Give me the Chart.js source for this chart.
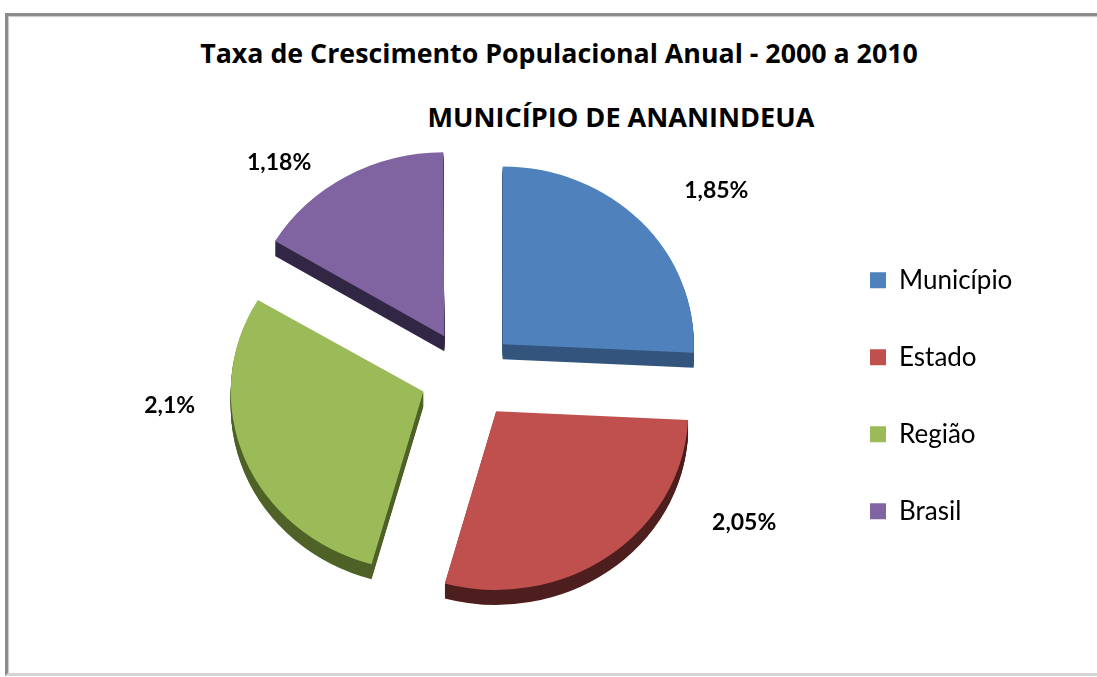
<!DOCTYPE html>
<html>
<head>
<meta charset="utf-8">
<script src="https://cdn.jsdelivr.net/npm/chart.js@4/dist/chart.umd.min.js"></script>
<style>
  html, body { margin: 0; padding: 0; background: #fff; overflow: hidden; }
  body { width: 1097px; height: 677px; position: relative; font-family: Lato, sans-serif; }
  .frame {
    position: absolute; left: 5px; top: 13px; width: 1110px; height: 657px;
    border-left: 3px solid #8c8c8c; border-top: 3px solid #8c8c8c; border-bottom: 3px solid #d4d4d4;
    box-shadow: inset 1px 1px 1px #c8c8c8;
  }
  .title {
    position: absolute; width: 900px; text-align: center; color: #000;
    font-family: "Open Sans", sans-serif; font-weight: bold; font-size: 25px; line-height: 1;
    white-space: nowrap;
  }
  #t1 { left: 109px; top: 40px; }
  #t2 { left: 171px; top: 103px; }
  canvas { position: absolute; left: 0; top: 0; }
</style>
</head>
<body>
<div class="frame"></div>
<div class="title" id="t1">Taxa de Crescimento Populacional Anual - 2000 a 2010</div>
<div class="title" id="t2">MUNICÍPIO DE ANANINDEUA</div>
<canvas id="chart" width="1097" height="677"></canvas>
<script>
// ── Data ─────────────────────────────────────────────────
const categories = ['Município', 'Estado', 'Região', 'Brasil'];
const rates      = [1.85, 2.05, 2.1, 1.18];
const rateLabels = ['1,85%', '2,05%', '2,1%', '1,18%'];

// ── Styling ──────────────────────────────────────────────
const faceColors = ['#4f81bd', '#c0504d', '#9bbb59', '#8064a2'];
const sideColors = ['#34557d', '#4e1f1f', '#4f6228', '#322845'];

const LEGEND_FONT = { family: 'Lato', size: 26 };
const LEGEND_PAD  = 51;
const LEGEND_BOX  = 16;

const measureCtx = document.createElement('canvas').getContext('2d');
function textWidth(font, text) {
  measureCtx.font = font;
  return measureCtx.measureText(text).width;
}

// titles: scale the font so each line spans the same width as the original
function fitTitle(id, target) {
  const el = document.getElementById(id);
  const w = textWidth('bold 25px "Open Sans"', el.textContent);
  el.style.fontSize = (25 * target / w).toFixed(2) + 'px';
}
fitTitle('t1', 718);
fitTitle('t2', 387);

// legend box should start at x=870; chart area spans 117..819
const legendTextW = Math.max(...categories.map(c => textWidth(`${LEGEND_FONT.size}px ${LEGEND_FONT.family}`, c)));
const legendWidth = LEGEND_PAD + LEGEND_BOX + LEGEND_FONT.size / 2 + legendTextW + 10;
const padRight    = 1097 - 819 - legendWidth;

function squash(ctx, cx, cy, k) {
  ctx.translate(cx, cy);
  ctx.scale(1, k);
  ctx.translate(-cx, -cy);
}

// fake 3D: extrude each slice downward in a darker tone, then tilt the faces
const pie3d = {
  id: 'pie3d',
  beforeDatasetsDraw(chart, args, opts) {
    const ctx  = chart.ctx;
    const arcs = chart.getDatasetMeta(0).data;
    const cx = arcs[0].x, cy = arcs[0].y;
    for (let k = opts.depth; k >= 1; k--) {
      ctx.save();
      ctx.translate(0, k);
      squash(ctx, cx, cy, opts.tilt);
      arcs.forEach((arc, i) => {
        const saved = arc.options;
        arc.options = { ...saved, backgroundColor: sideColors[i], borderColor: sideColors[i] };
        arc.draw(ctx);
        arc.options = saved;
      });
      ctx.restore();
    }
    ctx.save();
    squash(ctx, cx, cy, opts.tilt);
  },
  afterDatasetsDraw(chart) { chart.ctx.restore(); }
};

// value labels placed around each slice
const sliceLabels = {
  id: 'sliceLabels',
  afterDatasetsDraw(chart, args, opts) {
    const ctx  = chart.ctx;
    const arcs = chart.getDatasetMeta(0).data;
    ctx.save();
    ctx.font = 'bold 23px Lato';
    ctx.fillStyle = '#000';
    ctx.textAlign = 'center';
    ctx.textBaseline = 'middle';
    arcs.forEach((arc, i) => {
      const mid  = (arc.startAngle + arc.endAngle) / 2 + opts.turn[i] * Math.PI / 180;
      const dist = arc.outerRadius * opts.reach[i];
      ctx.fillText(rateLabels[i], arc.x + Math.cos(mid) * dist, arc.y + Math.sin(mid) * dist);
    });
    ctx.restore();
  }
};

new Chart(document.getElementById('chart'), {
  type: 'pie',
  data: {
    labels: categories,
    datasets: [{
      data: rates,
      backgroundColor: faceColors,
      borderWidth: 0,
      offset: 192,
      radius: 191,
    }]
  },
  options: {
    responsive: false,
    animation: false,
    events: [],
    layout: { padding: { left: 117, right: padRight, top: 118, bottom: 45 } },
    plugins: {
      title:   { display: false },
      tooltip: { enabled: false },
      legend: {
        position: 'right',
        title:  { display: true, text: '', padding: 0, font: { size: 32, lineHeight: 1.3 } },
        labels: { boxWidth: LEGEND_BOX, boxHeight: LEGEND_BOX, padding: LEGEND_PAD, color: '#000', font: LEGEND_FONT },
      },
      pie3d:       { depth: 15, tilt: 0.93 },
      sliceLabels: { turn: [7, -26, 16, -12], reach: [1.62, 1.64, 1.57, 1.49] },
    },
  },
  plugins: [pie3d, sliceLabels],
});
</script>
</body>
</html>
